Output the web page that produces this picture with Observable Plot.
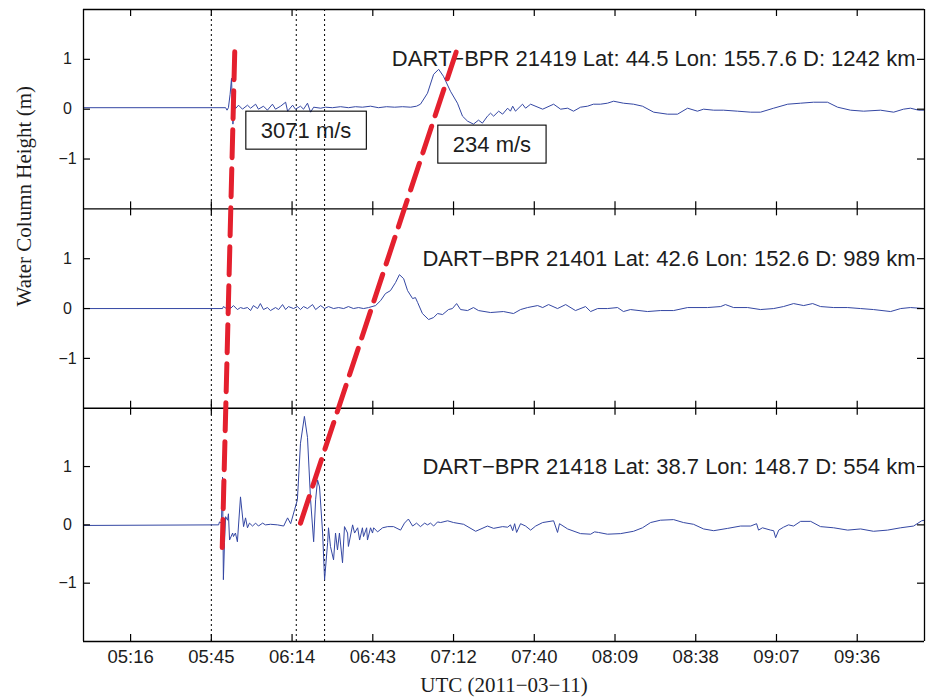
<!DOCTYPE html>
<html>
<head>
<meta charset="utf-8">
<script src="https://cdn.jsdelivr.net/npm/d3@7"></script>
<script src="https://cdn.jsdelivr.net/npm/@observablehq/plot@0.6"></script>
<style>
  body { margin: 0; background: #fff; }
</style>
</head>
<body>
<div id="chart"></div>
<script>
// DART bottom-pressure records, 2011-03-11.
// Each point: [minutes after 00:00 UTC, water column height in m]
const bpr21419 = [
  [300,0.03],[350.7,0.03],[351.2,-0.02],[351.7,0.03],[352.3,0.3],[352.8,0.62],[353.3,-0.3],[353.9,0.1],
  [354.2,0.01],[355.3,0.08],[356.7,0],[358.5,0.08],[359.6,0.02],[361.4,0.1],[362.4,0],[364.2,0.06],
  [365.6,-0.02],[367.4,0.1],[368.5,0],[370.3,0.06],[372.1,0.14],[372.8,-0.04],[374.6,0.08],[375.6,0],
  [377.4,0.06],[378.5,0],[379.9,0.12],[381.0,-0.06],[382.1,0.04],[384.6,0.02],[386.3,0.04],[388.8,0.03],
  [391.7,0.05],[394.5,0.03],[397.0,0.05],[399.5,0.04],[402.4,0.06],[405.2,0.03],[408.1,0.05],[411.0,0.04],
  [413.8,0.05],[416.7,0.04],[418.8,0.06],[420.2,0.1],[422.7,0.32],[424.9,0.7],[426.7,0.8],[428.4,0.66],
  [430.9,0.36],[433.4,0.12],[435.2,-0.14],[437.0,-0.24],[439.1,-0.3],[440.9,-0.22],[442.3,-0.28],[444.1,-0.14],
  [445.2,-0.08],[446.3,-0.14],[448.1,-0.04],[449.5,-0.1],[451.3,0.02],[452.3,-0.04],[453.1,0.06],[454.1,-0.04],
  [456.6,0.1],[457.7,0.02],[459.5,0.1],[463.8,0],[467.7,0.1],[470.2,0],[472.7,0.02],[474.8,-0.04],
  [477.3,0.04],[479.8,0.06],[481.9,0.1],[484.4,0.1],[486.9,0.12],[489.1,0.16],[492.6,0.12],[496.2,0.1],
  [499.4,0.06],[503.4,-0.06],[508.3,-0.1],[511.9,-0.1],[515.5,0.02],[519.0,-0.04],[521.2,0],[524.8,-0.02],
  [528.3,-0.02],[533.3,-0.04],[538.0,-0.06],[541.5,-0.06],[546.2,0.02],[551.2,0.1],[555.8,0.12],[560.4,0.14],
  [565.4,0.14],[569.0,0.04],[573.6,-0.02],[578.3,-0.04],[584.3,-0.02],[589.0,-0.06],[592.5,0],[595.0,0.02],
  [597.9,-0.02],[600,-0.02]
];
const bpr21401 = [
  [300,0],[349.6,0],[349.9,0.04],[351.0,0],[351.7,0.22],[352.4,0],[353.5,0.06],[354.9,-0.02],[356.0,0.02],
  [357.1,0],[358.5,0.02],[359.6,-0.04],[360.6,0.06],[362.1,0],[363.1,0.1],[364.2,-0.02],[365.6,0.02],
  [366.7,-0.04],[368.5,0.02],[369.6,-0.02],[371.0,0.08],[372.1,-0.02],[373.1,0.04],[374.9,0],[376.3,0.04],
  [377.4,-0.02],[378.5,0.04],[379.9,0],[381.7,0.08],[382.8,-0.02],[384.6,0.06],[386.0,0],[387.4,0.04],
  [389.2,0],[391.0,0.02],[392.8,0],[394.5,0.04],[396.3,0],[398.1,0.02],[399.9,0],[401.7,0.02],[404.2,0.06],
  [406.0,0.16],[407.7,0.3],[409.5,0.36],[411.3,0.52],[412.7,0.68],[414.2,0.6],[415.6,0.36],[417.4,0.2],
  [418.4,0.22],[419.2,0.12],[420.9,-0.1],[423.1,-0.22],[424.9,-0.18],[426.3,-0.1],[428.1,-0.12],[430.2,-0.02],
  [431.6,0],[433.1,0.1],[434.5,-0.02],[437.0,-0.04],[439.1,0.02],[440.9,-0.04],[445.2,-0.08],[449.8,-0.06],
  [453.4,-0.1],[455.9,-0.02],[458.4,0.02],[462.0,0.06],[463.8,0.02],[465.9,0.08],[469.1,0],[472.0,0.08],
  [475.5,-0.04],[479.1,0.04],[480.9,-0.06],[483.4,0],[486.9,0],[490.5,0.02],[492.6,-0.06],[495.1,-0.02],
  [501.2,-0.06],[505.8,-0.04],[510.5,-0.04],[515.5,0.02],[522.6,0.02],[527.3,0.04],[529.0,0.08],[531.9,0.02],
  [536.9,0.02],[541.5,-0.02],[546.2,0],[549.7,0.04],[553.3,0.1],[556.9,0.06],[560.1,0.1],[562.9,0.04],
  [567.6,0.02],[572.6,0.02],[577.2,0],[581.8,-0.02],[587.9,-0.06],[591.5,0],[595.0,0.02],[600,0]
];
const bpr21418 = [
  [300,-0.01],[348.2,0],[348.5,0.05],[349.2,0.03],[349.6,0.82],[349.9,-0.94],[350.3,-0.3],[350.7,0.14],
  [351.4,0.08],[351.7,0.19],[352.1,-0.26],[353.2,-0.14],[353.5,-0.2],[354.2,-0.14],[354.9,-0.29],[356.0,0.48],
  [357.1,-0.03],[357.8,0.12],[358.5,-0.05],[359.2,0.03],[360.3,-0.02],[361.4,0.03],[362.4,-0.02],[363.9,0.03],
  [364.9,0],[366.7,0.01],[369.2,0],[371.4,-0.02],[372.8,0.12],[373.9,0.02],[375.3,0.26],[376.3,0.43],
  [377.4,1.4],[378.8,1.86],[379.9,1.5],[381.0,0.43],[382.1,-0.29],[382.8,0.43],[383.5,0.77],[384.2,0.65],
  [385.3,-0.14],[386.0,-0.94],[387.1,-0.3],[387.4,-0.05],[388.1,-0.37],[389.2,-0.6],[389.9,-0.14],[390.6,-0.43],
  [391.3,-0.14],[392.4,-0.65],[393.1,-0.03],[394.2,-0.14],[394.5,-0.37],[396.0,0],[396.7,-0.14],[397.8,-0.05],
  [398.5,-0.26],[399.5,-0.05],[399.9,-0.2],[401.0,-0.05],[401.3,-0.26],[402.4,-0.05],[403.1,-0.14],[403.5,-0.05],
  [404.9,-0.12],[406.7,-0.05],[408.5,-0.03],[410.6,-0.03],[413.1,-0.09],[414.5,0.03],[415.9,0.1],[417.4,-0.02],
  [418.8,0.03],[420.2,-0.03],[421.7,0.03],[422.7,0],[423.8,0.03],[424.9,-0.02],[426.3,0.05],[427.4,0.04],
  [429.9,0.07],[432.0,0.04],[435.6,0.01],[439.9,-0.11],[444.1,-0.02],[446.3,-0.06],[449.5,-0.03],[451.3,-0.04],
  [452.3,0],[453.1,-0.1],[453.8,0.02],[454.5,-0.13],[455.9,0.02],[457.7,-0.02],[459.5,-0.09],[461.3,-0.02],
  [463.8,0.04],[467.7,0.07],[469.1,-0.13],[469.8,0.02],[472.7,-0.07],[477.3,-0.15],[480.9,-0.16],[482.3,-0.12],
  [483.7,-0.13],[486.9,-0.16],[491.6,-0.15],[496.2,-0.11],[499.4,-0.05],[502.3,0.04],[505.8,0.08],[510.5,0.09],
  [514.0,0.04],[517.6,0.01],[521.2,-0.07],[524.8,-0.1],[529.8,-0.06],[534.4,-0.02],[538.0,-0.02],[540.1,0.02],
  [540.8,-0.09],[542.2,-0.05],[545.1,-0.09],[546.2,-0.1],[546.9,-0.22],[548.0,-0.09],[549.7,-0.04],[551.5,0],
  [553.3,-0.02],[555.8,0.06],[559.4,0.06],[562.9,-0.03],[567.6,-0.05],[572.6,-0.09],[577.2,-0.07],[581.8,-0.11],
  [586.8,-0.09],[591.5,-0.05],[596.1,-0.02],[599.0,0.07],[600,0.08]
];

// Station metadata, top panel to bottom panel
const stationIds = ["21419", "21401", "21418"];
const stationLat = ["44.5", "42.6", "38.7"];
const stationLon = ["155.7.6", "152.6", "148.7"];
const stationDistKm = [1242, 989, 554];

// Dotted time markers (minutes UTC)
const markerTimes = [345.6, 375.9, 386.0];

// Apparent propagation speeds between the nearest (21418) and farthest (21419) gauge
const speedsMs = [3071, 234];
const speedCrossing = [349.7, 377.2];   // time the line crosses 21418's zero level (min UTC)
const speedFrom = [-0.39, 0.03];        // line start, height on the 21418 panel
const speedTo = [1.34, 1.16];           // line end, height on the 21419 panel
const speedLabelTime = [379.4, 445.7];  // label centre (min UTC)
const speedLabelHeight = [-0.43, -0.71];// label centre, height on the 21419 panel

// Time axis: ticks every 0.02 day
const tickDays = [0.22, 0.24, 0.26, 0.28, 0.30, 0.32, 0.34, 0.36, 0.38, 0.40];
const tickLabels = ["05:16", "05:45", "06:14", "06:43", "07:12", "07:40", "08:09", "08:38", "09:07", "09:36"];
const heightTicks = [-1, 0, 1];
const heightTickLabels = ["\u22121", "0", "1"];

// ---- layout: three stacked panels sharing one composite vertical scale ----
const series = [bpr21419, bpr21401, bpr21418];
const gains = [1, 1, 1.17];                 // bottom panel is drawn taller
const spans = gains.map(g => 4 * g);        // each panel covers -2..2 m
const total = d3.sum(spans);
const bottoms = [];
{ let acc = total; spans.forEach((s, i) => { acc -= s; bottoms[i] = acc; }); }
const zeros = bottoms.map((b, i) => b + 2 * gains[i]);
const Y = (i, v) => zeros[i] + gains[i] * v;
const edges = [total, ...bottoms];

const W = 930, H = 698, mL = 83, mR = 6, mT = 9, mB = 57;
const t0 = 300, t1 = 600;
const tickLenY = 7 * total / (H - mT - mB);
const tickLenX = 7 * (t1 - t0) / (W - mL - mR);

const tickMinutes = tickDays.map(d => d * 1440);
const xTickSegs = [];
edges.forEach(e => tickMinutes.forEach(t => {
  xTickSegs.push({t, y1: Math.max(0, e - tickLenY), y2: Math.min(total, e + tickLenY)});
}));
const yTickSegs = [];
const yTickText = [];
series.forEach((_, i) => heightTicks.forEach((v, k) => {
  yTickSegs.push({y: Y(i, v), x1: t0, x2: t0 + tickLenX});
  yTickSegs.push({y: Y(i, v), x1: t1 - tickLenX, x2: t1});
  yTickText.push({y: Y(i, v), text: heightTickLabels[k]});
}));

// Speed lines: the time offset between the 21418 and 21419 zero levels is distance / speed
const speedLines = [];
speedsMs.forEach((v, k) => {
  const dt = (stationDistKm[0] - stationDistKm[2]) * 1000 / v / 60;
  const tAt = c => speedCrossing[k] + dt * (c - zeros[2]) / (zeros[0] - zeros[2]);
  const cFrom = Y(2, speedFrom[k]);
  const cTo = Y(0, speedTo[k]);
  speedLines.push({id: k, x: tAt(cFrom), y: cFrom});
  speedLines.push({id: k, x: tAt(cTo), y: cTo});
});
const speedLabels = speedsMs.map((v, k) => ({
  x: speedLabelTime[k], y: Y(0, speedLabelHeight[k]), text: `${v} m/s`
}));
const stationLabels = stationIds.map((id, i) => ({
  y: Y(i, 1),
  text: `DART\u2212BPR ${id} Lat: ${stationLat[i]} Lon: ${stationLon[i]} D: ${stationDistKm[i]} km`
}));

const sans = "'Liberation Sans', Arial, Helvetica, sans-serif";
const serif = "'Liberation Serif', 'Times New Roman', serif";
const ink = "#1d1d1d";

const chart = Plot.plot({
  width: W, height: H,
  marginLeft: mL, marginRight: mR, marginTop: mT, marginBottom: mB,
  x: {domain: [t0, t1], axis: null},
  y: {domain: [0, total], axis: null},
  style: {fontFamily: sans, background: "#fff", overflow: "visible"},
  marks: [
    Plot.ruleX(markerTimes, {stroke: "#000", strokeWidth: 1, strokeDasharray: "2,3"}),
    ...series.map((s, i) => Plot.line(s, {
      x: d => d[0], y: d => Y(i, d[1]), stroke: "#3447a3", strokeWidth: 1
    })),
    Plot.ruleY(edges, {stroke: "#000", strokeWidth: 1.3}),
    Plot.ruleX([t0, t1], {stroke: "#000", strokeWidth: 1.3}),
    Plot.ruleX(xTickSegs, {x: "t", y1: "y1", y2: "y2", stroke: "#000", strokeWidth: 1.2}),
    Plot.ruleY(yTickSegs, {y: "y", x1: "x1", x2: "x2", stroke: "#000", strokeWidth: 1.2}),
    Plot.text(yTickText, {x: d => t0, y: "y", text: "text", dx: -16, textAnchor: "middle",
      fontSize: 16, fill: ink}),
    Plot.text(tickMinutes, {x: d => d, y: d => 0, text: (d, i) => tickLabels[i], dy: 16,
      fontSize: 18.5, fill: ink}),
    Plot.text(stationLabels, {x: d => t1, y: "y", text: "text", dx: -9, textAnchor: "end",
      fontSize: 22, fill: ink}),
    Plot.line(speedLines, {x: "x", y: "y", z: "id", stroke: "#e4202e", strokeWidth: 5,
      strokeDasharray: "28,11"}),
    Plot.text(speedLabels, {x: "x", y: "y", text: "text", fontSize: 22, fill: ink}),
    Plot.text(["UTC (2011\u221203\u221211)"], {frameAnchor: "bottom", dy: 50,
      fontFamily: serif, fontSize: 21, fill: ink}),
    Plot.text(["Water Column Height (m)"], {frameAnchor: "left", rotate: -90, dx: -59, dy: -19,
      fontFamily: serif, fontSize: 21, fill: ink})
  ]
});

document.getElementById("chart").append(chart);

// Framed boxes around the speed labels
const speedTexts = new Set(speedLabels.map(d => d.text));
chart.querySelectorAll("text").forEach(t => {
  if (!speedTexts.has(t.textContent)) return;
  const bb = t.getBBox();
  const r = document.createElementNS("http://www.w3.org/2000/svg", "rect");
  r.setAttribute("x", bb.x - 15);
  r.setAttribute("y", bb.y - 6.5);
  r.setAttribute("width", bb.width + 30);
  r.setAttribute("height", bb.height + 13);
  r.setAttribute("fill", "none");
  r.setAttribute("stroke", "#000");
  r.setAttribute("stroke-width", 1.1);
  const tr = t.getAttribute("transform");
  if (tr) r.setAttribute("transform", tr);
  t.parentNode.insertBefore(r, t);
});
</script>
</body>
</html>
